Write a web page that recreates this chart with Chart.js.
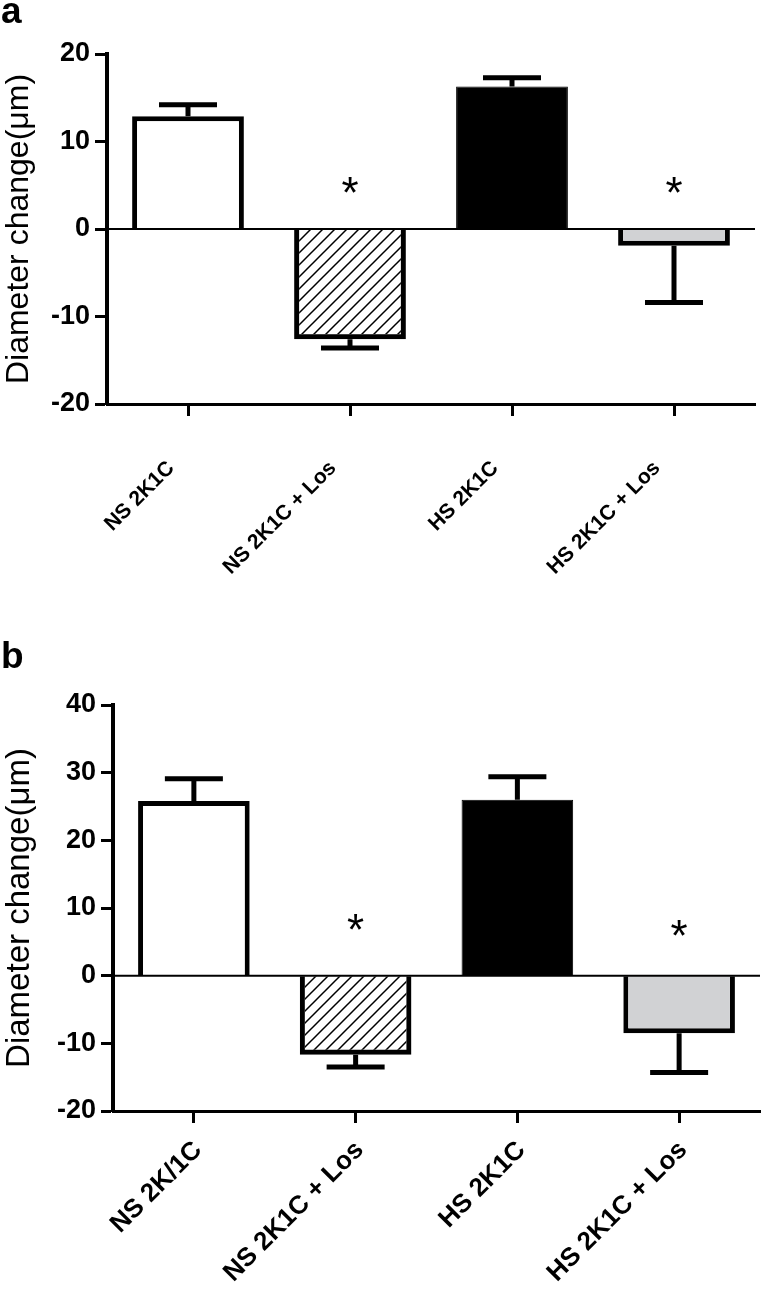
<html>
<head>
<script src="https://cdn.jsdelivr.net/npm/chart.js"></script>
<style>
  body { margin: 0; background: #fff; font-family: "Liberation Sans", Arial, sans-serif; }
  .wrap { position: relative; width: 762px; height: 1292px; overflow: hidden; }
  canvas { position: absolute; left: 0; }
  #chartA { top: 0; }
  #chartB { top: 620px; }
  .panel { position: absolute; left: 1px; font-weight: bold; font-size: 37px; line-height: 37px; color: #000; }
</style>
</head>
<body>
<div class="wrap">
  <canvas id="chartA" width="762" height="620"></canvas>
  <canvas id="chartB" width="762" height="672"></canvas>
  <div class="panel" style="top:-8px;">a</div>
  <div class="panel" style="top:637px;">b</div>
</div>
<script>
// panel a
const categoriesA = ['NS 2K1C', 'NS 2K1C + Los', 'HS 2K1C', 'HS 2K1C + Los'];
const meanA = [12.9, -12.6, 16.3, -1.9];
const semA = [1.3, 1.0, 1.0, 6.5];
const starA = [null, 5.3, null, 5.3];   // where the * sits, in µm

// panel b
const categoriesB = ['NS 2K/1C', 'NS 2K1C + Los', 'HS 2K1C', 'HS 2K1C + Los'];
const meanB = [25.8, -11.7, 26.0, -8.5];
const semB = [3.3, 1.8, 3.4, 5.8];
const starB = [null, 8.2, null, 7.4];

const yRangeA = [-20, 20];
const yRangeB = [-20, 40];
const yStep = 10;

Chart.defaults.font.family = '"Liberation Sans", Arial, sans-serif';
Chart.defaults.color = '#000';

// diagonal hatch for the Los bars
function hatch() {
  const c = document.createElement('canvas');
  c.width = 12; c.height = 12;
  const g = c.getContext('2d');
  g.strokeStyle = '#000';
  g.lineWidth = 1.5;
  g.beginPath();
  g.moveTo(0, 12); g.lineTo(12, 0);
  g.moveTo(-6, 6); g.lineTo(6, -6);
  g.moveTo(6, 18); g.lineTo(18, 6);
  g.stroke();
  return g.createPattern(c, 'repeat');
}

// zero line, one-sided SEM bars and asterisks
function overlay(sem, stars) {
  return {
    id: 'overlay',
    afterDatasetsDraw(chart) {
      const ctx = chart.ctx;
      const y = chart.scales.y;
      const area = chart.chartArea;
      const means = chart.data.datasets[0].data;
      const bars = chart.getDatasetMeta(0).data;
      ctx.save();
      ctx.strokeStyle = '#000';
      ctx.lineWidth = 2;
      const y0 = y.getPixelForValue(0);
      ctx.beginPath(); ctx.moveTo(area.left, y0); ctx.lineTo(area.right, y0); ctx.stroke();

      ctx.lineWidth = 5;
      bars.forEach((bar, i) => {
        const m = means[i];
        const end = m + Math.sign(m) * sem[i];
        const ya = y.getPixelForValue(m);
        const yb = y.getPixelForValue(end);
        ctx.beginPath();
        ctx.moveTo(bar.x, ya); ctx.lineTo(bar.x, yb);
        ctx.moveTo(bar.x - 29, yb); ctx.lineTo(bar.x + 29, yb);
        ctx.stroke();
        if (stars[i] != null) {
          const size = 44;
          ctx.font = size + 'px "Liberation Sans", Arial, sans-serif';
          ctx.fillStyle = '#000';
          ctx.textAlign = 'center';
          ctx.textBaseline = 'alphabetic';
          ctx.fillText('*', bar.x, y.getPixelForValue(stars[i]) + 0.57 * size);
        }
      });
      ctx.restore();
    }
  };
}

function makeChart(id, labels, means, sem, stars, range, o) {
  return new Chart(document.getElementById(id), {
    type: 'bar',
    data: {
      labels: labels,
      datasets: [{
        data: means,
        backgroundColor: ['#ffffff', hatch(), '#000000', '#d1d2d4'],
        borderColor: '#000',
        borderWidth: [5, 5, 1, 5],
        borderSkipped: 'start',
        categoryPercentage: 1,
        barPercentage: 0.69
      }]
    },
    options: {
      responsive: false,
      animation: false,
      devicePixelRatio: 1,
      layout: { padding: { top: o.top, right: o.right, left: 0, bottom: 0 } },
      plugins: { legend: { display: false }, tooltip: { enabled: false } },
      scales: {
        x: {
          offset: true,
          grid: { drawOnChartArea: false, offset: false, tickLength: 12, tickWidth: 3, tickColor: '#000' },
          border: { width: 3, color: '#000' },
          ticks: {
            minRotation: 45, maxRotation: 45, padding: o.xPad, labelOffset: o.xShift,
            font: { size: o.xFont, weight: 'bold' }, color: '#000'
          },
          afterFit: s => { s.height = o.xHeight; }
        },
        y: {
          min: range[0], max: range[1],
          grid: { drawOnChartArea: false, tickLength: 12, tickWidth: 3, tickColor: '#000' },
          border: { width: 4, color: '#000' },
          ticks: { stepSize: yStep, padding: 5, font: { size: 27, weight: 'bold' }, color: '#000' },
          title: {
            display: true, text: 'Diameter change(μm)', color: '#000',
            font: { size: o.titleFont, weight: 'normal' }, padding: { top: 0, bottom: 0 }
          },
          afterFit: s => { s.width = o.yWidth; }
        }
      }
    },
    plugins: [overlay(sem, stars)]
  });
}

makeChart('chartA', categoriesA, meanA, semA, starA, yRangeA,
  { top: 54, right: 7, xHeight: 216, yWidth: 107, xPad: 40, xShift: -17, xFont: 21, titleFont: 32 });
makeChart('chartB', categoriesB, meanB, semB, starB, yRangeB,
  { top: 85, right: 2, xHeight: 181, yWidth: 113, xPad: 12, xShift: 4, xFont: 26, titleFont: 33 });
</script>
</body>
</html>
